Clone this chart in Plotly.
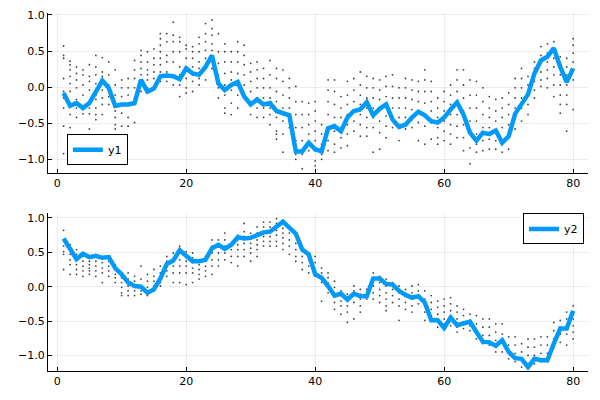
import plotly.graph_objects as go

x = list(range(1, 81))

y1 = [-0.08, -0.26, -0.22, -0.29, -0.22, -0.06, 0.09, -0.01, -0.26, -0.24,
      -0.24, -0.22, 0.10, -0.06, -0.02, 0.15, 0.16, 0.15, 0.11, 0.26,
      0.19, 0.17, 0.28, 0.44, 0.05, -0.04, 0.03, 0.07, -0.13, -0.24,
      -0.17, -0.24, -0.22, -0.33, -0.36, -0.39, -0.89, -0.89, -0.77, -0.86,
      -0.89, -0.57, -0.54, -0.61, -0.42, -0.33, -0.31, -0.21, -0.39, -0.30,
      -0.24, -0.45, -0.55, -0.52, -0.42, -0.34, -0.39, -0.47, -0.49, -0.42,
      -0.31, -0.21, -0.38, -0.63, -0.74, -0.63, -0.65, -0.60, -0.77, -0.68,
      -0.37, -0.22, -0.10, 0.19, 0.37, 0.42, 0.54, 0.28, 0.07, 0.26]

y2 = [0.70, 0.55, 0.40, 0.48, 0.43, 0.45, 0.42, 0.43, 0.27, 0.18,
      0.06, 0.01, 0.00, -0.09, -0.04, 0.12, 0.33, 0.38, 0.53, 0.45,
      0.37, 0.37, 0.39, 0.56, 0.61, 0.55, 0.61, 0.72, 0.70, 0.71,
      0.75, 0.79, 0.80, 0.87, 0.945, 0.86, 0.77, 0.54, 0.47, 0.18,
      0.13, 0.01, -0.13, -0.10, -0.19, -0.10, -0.14, -0.14, 0.12, 0.12,
      0.04, 0.03, -0.06, -0.12, -0.16, -0.14, -0.23, -0.49, -0.49, -0.60,
      -0.45, -0.56, -0.54, -0.51, -0.66, -0.80, -0.81, -0.86, -0.78, -0.95,
      -1.04, -1.05, -1.17, -1.05, -1.07, -1.07, -0.83, -0.61, -0.61, -0.35]

# sample points for each x
dots1 = [
    [0.57, 0.44, 0.40, 0.12, -0.06, -0.15, -0.29, -0.54, -0.92],
    [0.36, 0.31, 0.24, 0.15, 0.05, -0.06, -0.24, -0.38, -0.56],
    [0.28, 0.19, 0.10, -0.01, -0.17, -0.29, -0.42, -0.69],
    [0.24, 0.17, 0.03, -0.11, -0.29, -0.37],
    [0.31, 0.15, 0.08, -0.04, -0.22, -0.29, -0.37, -0.58],
    [0.44, 0.28, 0.17, 0.05, -0.11, -0.17, -0.29, -0.38, -0.45],
    [0.41, 0.21, 0.15, 0.08, -0.04, -0.15, -0.24, -0.38],
    [0.35, 0.17, 0.03, -0.06, -0.13, -0.24],
    [0.24, 0.03, -0.11, -0.24, -0.33, -0.42, -0.52, -0.58],
    [0.10, -0.01, -0.13, -0.24, -0.36, -0.54],
    [0.12, -0.01, -0.11, -0.24, -0.42, -0.54],
    [0.37, 0.24, 0.12, -0.01, -0.15, -0.24, -0.49],
    [0.51, 0.44, 0.35, 0.26, 0.17, 0.08, -0.06],
    [0.49, 0.35, 0.24, 0.17, 0.10, -0.01],
    [0.53, 0.40, 0.31, 0.21, 0.12, -0.01],
    [0.74, 0.67, 0.58, 0.49, 0.40, 0.31, 0.21, 0.08],
    [0.74, 0.63, 0.44, 0.35, 0.21, 0.08],
    [0.90, 0.72, 0.63, 0.49, 0.35, 0.17, 0.03],
    [0.69, 0.63, 0.49, 0.28, 0.17, 0.03, -0.13],
    [0.58, 0.53, 0.40, 0.26, 0.12, -0.01, -0.08],
    [0.56, 0.49, 0.40, 0.28, 0.17, 0.08, -0.06],
    [0.69, 0.60, 0.49, 0.35, 0.26, 0.12, 0.03],
    [0.88, 0.74, 0.63, 0.51, 0.40, 0.26, 0.10],
    [0.93, 0.81, 0.72, 0.60, 0.51, 0.40, 0.26],
    [0.74, 0.49, 0.33, 0.17, -0.01, -0.15],
    [0.60, 0.49, 0.35, 0.19, 0.03, -0.11, -0.29, -0.36],
    [0.49, 0.35, 0.21, 0.10, -0.04, -0.22, -0.38],
    [0.63, 0.49, 0.35, 0.19, 0.03, -0.11, -0.29],
    [0.58, 0.44, 0.31, 0.17, 0.03, -0.11],
    [0.33, 0.21, 0.08, -0.06, -0.24, -0.38],
    [0.35, 0.24, 0.12, -0.01, -0.15, -0.29, -0.42],
    [0.26, 0.12, -0.01, -0.15, -0.29, -0.42],
    [0.37, 0.17, -0.01, -0.15, -0.29, -0.38, -0.52],
    [0.26, 0.12, -0.06, -0.20, -0.42, -0.61, -0.65, -0.72],
    [0.24, 0.08, -0.11, -0.29, -0.47, -0.65, -0.90],
    [0.12, -0.01, -0.15, -0.29, -0.42, -0.56],
    [0.01, -0.20, -0.38, -0.56, -0.74, -0.93, -1.00],
    [-0.20, -0.38, -0.56, -0.74, -0.93, -1.13],
    [-0.22, -0.38, -0.52, -0.65, -0.79, -0.88],
    [-0.20, -0.33, -0.47, -0.61, -0.74, -0.88, -1.02, -1.09],
    [-0.52, -0.65, -0.79, -0.93, -1.00],
    [0.10, -0.04, -0.20, -0.38, -0.56, -0.74, -0.88],
    [0.10, -0.06, -0.24, -0.42, -0.61, -0.79, -0.90],
    [-0.13, -0.29, -0.42, -0.56, -0.70, -0.84],
    [0.08, -0.11, -0.24, -0.38, -0.52, -0.65, -0.81],
    [0.12, -0.04, -0.20, -0.33, -0.47, -0.61],
    [0.21, 0.03, -0.11, -0.24, -0.38, -0.52, -0.68],
    [0.15, -0.01, -0.15, -0.29, -0.42, -0.56, -0.68],
    [0.12, -0.01, -0.15, -0.29, -0.42, -0.56, -0.90],
    [0.10, -0.04, -0.17, -0.31, -0.47, -0.63, -0.86],
    [0.15, 0.01, -0.13, -0.26, -0.40, -0.54, -0.70],
    [0.17, 0.01, -0.15, -0.29, -0.45, -0.56],
    [-0.01, -0.15, -0.29, -0.42, -0.56, -0.74],
    [0.12, -0.01, -0.15, -0.29, -0.42, -0.58],
    [0.10, -0.04, -0.17, -0.31, -0.45, -0.56],
    [0.08, -0.06, -0.20, -0.33, -0.49, -0.74],
    [0.24, 0.10, -0.06, -0.22, -0.38, -0.54, -0.79],
    [0.08, -0.06, -0.20, -0.33, -0.49, -0.72],
    [-0.15, -0.29, -0.42, -0.56, -0.70, -0.79],
    [-0.06, -0.20, -0.33, -0.47, -0.61, -0.74],
    [0.03, -0.11, -0.24, -0.38, -0.52, -0.65, -0.79],
    [0.24, 0.10, -0.06, -0.22, -0.38, -0.54, -0.70],
    [0.24, 0.03, -0.15, -0.33, -0.52, -0.70, -0.88],
    [0.10, -0.11, -0.29, -0.47, -0.65, -0.84, -1.06],
    [0.08, -0.11, -0.29, -0.47, -0.65, -0.79, -0.90],
    [-0.01, -0.20, -0.38, -0.56, -0.74, -0.88],
    [-0.13, -0.29, -0.42, -0.56, -0.72, -0.86],
    [-0.17, -0.33, -0.47, -0.61, -0.74, -0.86],
    [-0.15, -0.29, -0.42, -0.56, -0.74, -0.90],
    [-0.08, -0.24, -0.38, -0.52, -0.65, -0.86],
    [0.12, -0.01, -0.15, -0.29, -0.42, -0.58],
    [0.26, 0.12, -0.01, -0.15, -0.29, -0.47],
    [0.15, 0.03, -0.11, -0.24, -0.38],
    [0.35, 0.26, 0.17, 0.08, -0.04, -0.15],
    [0.56, 0.44, 0.33, 0.21, 0.10, 0.01],
    [0.60, 0.47, 0.35, 0.24, 0.12, -0.01],
    [0.63, 0.51, 0.40, 0.28, 0.17, 0.03, -0.13],
    [0.42, 0.31, 0.17, 0.03, -0.11, -0.24, -0.36],
    [0.40, 0.28, 0.17, 0.03, -0.11, -0.24, -0.61],
    [0.67, 0.58, 0.47, 0.35, 0.24, 0.10, -0.31],
]

dots2 = [
    [0.82, 0.68, 0.59, 0.51, 0.47, 0.25],
    [0.61, 0.54, 0.47, 0.39, 0.32, 0.18],
    [0.54, 0.47, 0.39, 0.32, 0.25, 0.18],
    [0.49, 0.44, 0.37, 0.30, 0.23, 0.15],
    [0.42, 0.37, 0.32, 0.27, 0.23, 0.18],
    [0.44, 0.37, 0.30, 0.23, 0.15],
    [0.42, 0.35, 0.27, 0.20, 0.06],
    [0.44, 0.37, 0.30, 0.23, 0.15],
    [0.32, 0.25, 0.18, 0.13, 0.06],
    [0.20, 0.13, 0.06, -0.01, -0.09, -0.13],
    [0.20, 0.11, 0.01, -0.06, -0.13],
    [0.15, 0.08, 0.01, -0.06, -0.13],
    [0.30, 0.11, 0.01, -0.06, -0.11],
    [0.18, 0.08, -0.01, -0.09, -0.13],
    [0.25, 0.15, 0.08, 0.01, -0.06],
    [0.30, 0.20, 0.13, 0.06, 0.01],
    [0.44, 0.37, 0.30, 0.23, 0.15],
    [0.49, 0.39, 0.30, 0.20, 0.06],
    [0.59, 0.49, 0.39, 0.30, 0.20, 0.06],
    [0.51, 0.44, 0.37, 0.30, 0.20, 0.03],
    [0.49, 0.42, 0.35, 0.27, 0.20, 0.06],
    [0.39, 0.32, 0.25, 0.18, 0.11],
    [0.44, 0.37, 0.30, 0.23, 0.15],
    [0.68, 0.59, 0.49, 0.39, 0.30, 0.18],
    [0.68, 0.59, 0.49, 0.39, 0.30],
    [0.78, 0.68, 0.59, 0.49, 0.39],
    [0.63, 0.54, 0.44, 0.35],
    [0.75, 0.68, 0.61, 0.54, 0.44, 0.30],
    [0.92, 0.80, 0.73, 0.63, 0.54, 0.44],
    [0.78, 0.71, 0.63, 0.56, 0.49, 0.37],
    [0.87, 0.78, 0.68, 0.61, 0.54, 0.44],
    [0.94, 0.87, 0.80, 0.73, 0.66, 0.59],
    [0.94, 0.87, 0.80, 0.73, 0.66, 0.59],
    [0.99, 0.92, 0.82, 0.75, 0.66, 0.59],
    [0.92, 0.85, 0.78, 0.71, 0.63, 0.54],
    [0.87, 0.78, 0.68, 0.59, 0.47],
    [0.73, 0.63, 0.54, 0.44, 0.37],
    [0.54, 0.44, 0.35, 0.25],
    [0.49, 0.39, 0.30, 0.20],
    [0.44, 0.35, 0.25, 0.15],
    [0.27, 0.20, 0.13, 0.06, -0.21],
    [0.20, 0.13, 0.06, -0.01, -0.09],
    [0.08, -0.01, -0.11, -0.23, -0.33],
    [-0.06, -0.13, -0.21, -0.28, -0.40],
    [-0.11, -0.21, -0.28, -0.37, -0.52],
    [0.01, -0.06, -0.13, -0.23, -0.47],
    [-0.04, -0.11, -0.18, -0.28, -0.37],
    [-0.04, -0.11, -0.18],
    [0.20, 0.11, 0.01, -0.09, -0.18],
    [0.15, 0.06, -0.04, -0.13, -0.23],
    [0.11, 0.01, -0.09, -0.18, -0.28, -0.35],
    [0.06, -0.04, -0.13, -0.23],
    [0.01, -0.09, -0.18, -0.28, -0.49],
    [-0.04, -0.13, -0.23, -0.33],
    [0.01, -0.09, -0.18, -0.28, -0.37],
    [0.03, -0.06, -0.16, -0.25],
    [-0.06, -0.18, -0.28, -0.37, -0.49],
    [-0.13, -0.23, -0.33, -0.42],
    [-0.21, -0.30, -0.40, -0.49, -0.59],
    [-0.18, -0.28, -0.37, -0.47, -0.54, -0.61],
    [-0.16, -0.25, -0.35, -0.45, -0.57],
    [-0.28, -0.37, -0.47, -0.59, -0.66],
    [-0.33, -0.42, -0.52, -0.61],
    [-0.40, -0.49, -0.57, -0.64],
    [-0.42, -0.54, -0.66, -0.76],
    [-0.47, -0.59, -0.71, -0.83],
    [-0.47, -0.59, -0.71, -0.85],
    [-0.54, -0.66, -0.78, -0.95],
    [-0.54, -0.69, -0.81, -0.95],
    [-0.73, -0.85, -0.95, -1.05],
    [-0.73, -0.85, -0.97, -1.09],
    [-0.83, -0.95, -1.07, -1.17],
    [-0.76, -0.88, -1.00, -1.12],
    [-0.76, -0.88, -1.00, -1.12],
    [-0.73, -0.85, -0.97, -1.09],
    [-0.73, -0.85, -0.97, -1.09],
    [-0.52, -0.64, -0.76, -0.88],
    [-0.49, -0.59, -0.69, -0.81],
    [-0.37, -0.47, -0.57, -0.69, -0.85],
    [-0.28, -0.37, -0.47, -0.57, -0.66, -0.76],
]

x_ticks = [0, 20, 40, 60, 80]
y_ticks = [-1.0, -0.5, 0.0, 0.5, 1.0]

LINE = "#009AFA"
FONT = "DejaVu Sans"


def flat(d):
    xs, ys = [], []
    for xi, col in zip(x, d):
        for v in col:
            xs.append(xi)
            ys.append(v)
    return xs, ys


fig = go.Figure()
dx1, dy1 = flat(dots1)
dx2, dy2 = flat(dots2)
dot_style = dict(size=1.8, color="rgba(0,0,0,0.75)")
fig.add_trace(go.Scatter(x=dx1, y=dy1, mode="markers", xaxis="x", yaxis="y",
                         marker=dot_style, showlegend=False, hoverinfo="skip"))
fig.add_trace(go.Scatter(x=x, y=y1, mode="lines", name="y1", xaxis="x", yaxis="y",
                         line=dict(color=LINE, width=4.5), legend="legend"))
fig.add_trace(go.Scatter(x=dx2, y=dy2, mode="markers", xaxis="x2", yaxis="y2",
                         marker=dot_style, showlegend=False, hoverinfo="skip"))
fig.add_trace(go.Scatter(x=x, y=y2, mode="lines", name="y2", xaxis="x2", yaxis="y2",
                         line=dict(color=LINE, width=4.5), legend="legend2"))

ax_common = dict(showline=True, linecolor="black", linewidth=1, mirror=False,
                 showgrid=True, gridcolor="rgba(0,0,0,0.07)", gridwidth=1,
                 zeroline=False, ticks="inside", ticklen=4, tickcolor="black",
                 tickfont=dict(family=FONT, size=11, color="black"))

fig.update_layout(
    width=600, height=400,
    margin=dict(l=48, r=12, t=9, b=29),
    paper_bgcolor="white", plot_bgcolor="white",
    font=dict(family=FONT, size=11, color="black"),
    xaxis=dict(domain=[0, 1], anchor="y", range=[-1.42, 82.3], tickvals=x_ticks, **ax_common),
    yaxis=dict(domain=[0.5533, 1], anchor="x", range=[-1.188, 1.027], tickvals=y_ticks,
               tickformat=".1f", **ax_common),
    xaxis2=dict(domain=[0, 1], anchor="y2", range=[-1.42, 82.3], tickvals=x_ticks, **ax_common),
    yaxis2=dict(domain=[0, 0.44], anchor="x2", range=[-1.227, 1.065], tickvals=y_ticks,
                tickformat=".1f", **ax_common),
    legend=dict(x=0.035, y=0.575, xanchor="left", yanchor="bottom",
                bgcolor="white", bordercolor="black", borderwidth=1,
                font=dict(family=FONT, size=11, color="black")),
    legend2=dict(x=0.9926, y=0.44, xanchor="right", yanchor="top",
                 bgcolor="white", bordercolor="black", borderwidth=1,
                 font=dict(family=FONT, size=11, color="black")),
)

fig.write_html("out.html")
